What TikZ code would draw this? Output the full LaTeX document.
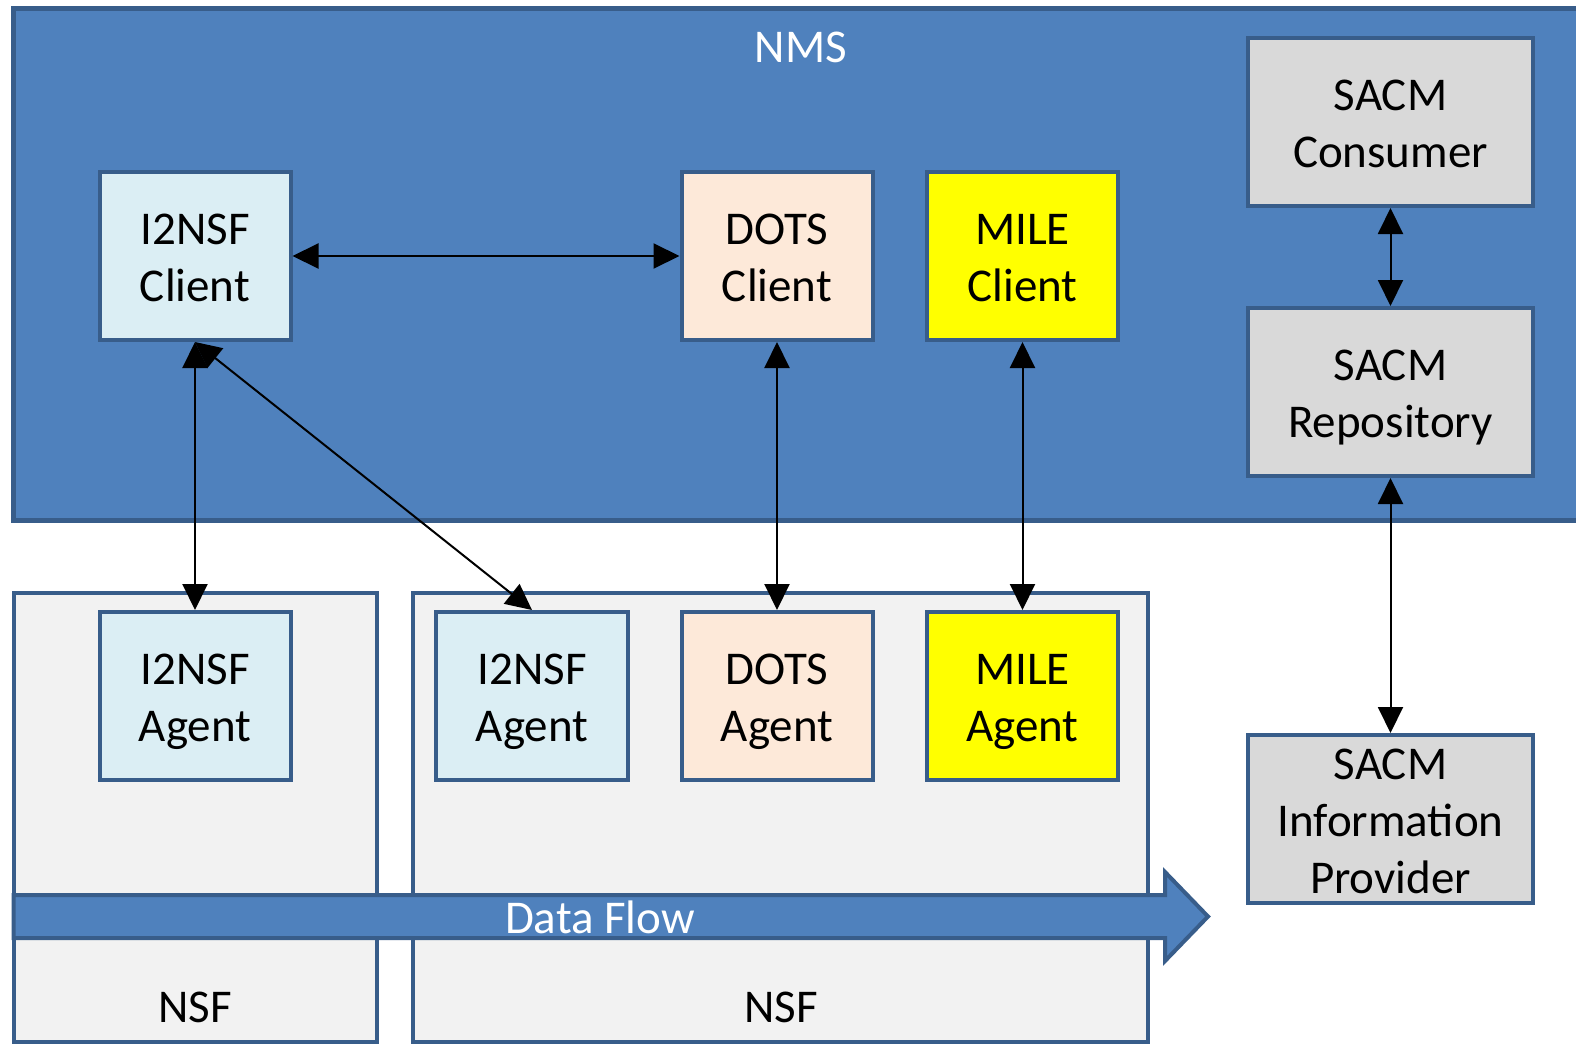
\documentclass[tikz,border=0pt]{standalone}
\usepackage{fontspec}
\setmainfont{Carlito}
\usetikzlibrary{arrows.meta}
\definecolor{nmsblue}{HTML}{4F81BD}
\definecolor{edge}{HTML}{385D8A}
\definecolor{lblue}{HTML}{DBEEF4}
\definecolor{peach}{HTML}{FDE9D9}
\definecolor{yel}{HTML}{FFFF00}
\definecolor{sgray}{HTML}{D9D9D9}
\definecolor{nsfgray}{HTML}{F2F2F2}
\begin{document}
\begin{tikzpicture}[x=0.5pt,y=-0.5pt,
  box/.style={draw=edge, line width=2pt, inner sep=0pt, outer sep=1pt,
    label={[align=center, text depth=0pt, inner sep=0pt, yshift=-1pt,
      font=\fontsize{23.5pt}{28.5pt}\selectfont, text=black]center:#1}},
  small/.style={minimum width=95.5pt, minimum height=84pt},
  wide/.style={minimum width=142.5pt, minimum height=84pt},
  lbl/.style={font=\fontsize{23.5pt}{28.5pt}\selectfont, inner sep=0pt, anchor=base},
  arr/.style={{Triangle[length=13pt,width=12.5pt]}-{Triangle[length=13pt,width=12.5pt]}, line width=1pt, black},
  region/.style={draw=edge, line width=2.5pt},
  nsf/.style={draw=edge, line width=2pt, fill=nsfgray}
]
\clip (0,0) rectangle (1576,1044);
\fill[white] (0,0) rectangle (1576,1044);
% NMS area
\draw[region, fill=nmsblue] (13.5,8.5) rectangle (1620,520);
\node[lbl, text=white] (nms) at (801,62.5) {NMS};
% NSF areas
\draw[nsf] (13.5,593) rectangle (376.5,1041.5);
\draw[nsf] (413,593) rectangle (1148,1041.5);
\node[lbl] (nsf1) at (195,1022) {NSF};
\node[lbl] (nsf2) at (781,1022) {NSF};
% Data flow arrow
\draw[fill=nmsblue, draw=edge, line width=2pt, line join=miter]
  (13.5,895) -- (1165,895) -- (1165,872) -- (1208,916.5) -- (1165,961) -- (1165,938) -- (13.5,938) -- cycle;
\node[lbl, text=white] (df) at (600,933) {Data Flow};
% Clients
\node[box={I2NSF\\Client}, small, fill=lblue] (c1) at (195,256) {};
\node[box={DOTS\\Client}, small, fill=peach] (c2) at (777,256) {};
\node[box={MILE\\Client}, small, fill=yel] (c3) at (1022.5,256) {};
% SACM
\node[box={SACM\\Consumer}, wide, fill=sgray] (sc) at (1390.5,122) {};
\node[box={SACM\\Repository}, wide, fill=sgray] (sr) at (1390.5,392) {};
\node[box={SACM\\Information\\Provider}, wide, fill=sgray] (si) at (1390.5,819) {};
% Agents
\node[box={I2NSF\\Agent}, small, fill=lblue] (a1) at (195,696) {};
\node[box={I2NSF\\Agent}, small, fill=lblue, minimum width=96pt] (a2) at (532,696) {};
\node[box={DOTS\\Agent}, small, fill=peach] (a3) at (777,696) {};
\node[box={MILE\\Agent}, small, fill=yel] (a4) at (1022.5,696) {};
% connectors
\draw[arr] (c1.east) -- (c2.west);
\draw[arr] (c1.south) -- (a1.north);
\draw[arr] (c1.south) -- (a2.north);
\draw[arr] (c2.south) -- (a3.north);
\draw[arr] (c3.south) -- (a4.north);
\draw[arr] (sc.south) -- (sr.north);
\draw[arr] (sr.south) -- (si.north);
\end{tikzpicture}
\end{document}
